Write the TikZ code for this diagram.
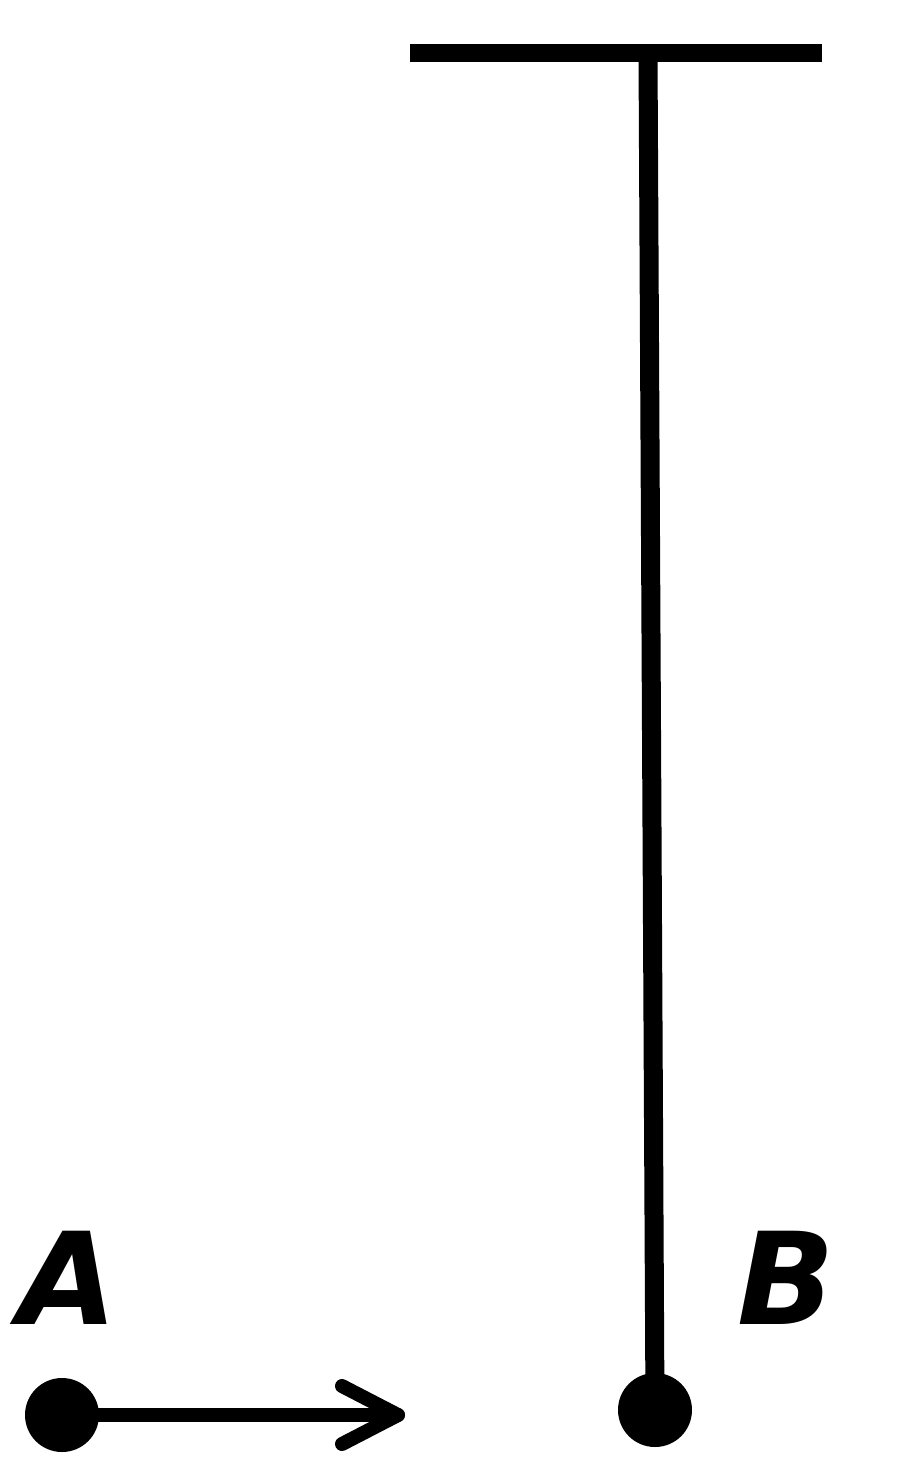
\documentclass[tikz,border=0pt]{standalone}
\usepackage{fontspec}
\setsansfont{DejaVu Sans}
\begin{document}
\begin{tikzpicture}[x=0.5pt,y=-0.5pt,
  dot/.style={circle,fill=black,inner sep=0pt,minimum size=37pt},
  lbl/.style={font=\sffamily\bfseries\itshape\fontsize{64}{64}\selectfont,inner sep=0pt},
  bar/.style={line width=9pt},
  stem/.style={line width=9.5pt},
  arr/.style={line width=7pt,line cap=round,line join=round}]
\useasboundingbox (0,0) rectangle (900,1484);
\fill[white] (0,0) rectangle (900,1484);
\coordinate (L) at (410,53);
\coordinate (R) at (822,53);
\coordinate (top) at (648,53);
\node[dot] (B) at (655,1410) {};
\node[dot] (A) at (62,1415) {};
\coordinate (tip) at (398,1415);
\draw[bar] (L) -- (R);
\draw[stem] (top) -- (B.center);
\draw[arr] (A.center) -- (tip);
\draw[arr] (342,1386) -- (tip) -- (342,1444);
\node[lbl] (la) at (68,1278) {A};
\node[lbl] (lb) at (786,1278) {B};
\end{tikzpicture}
\end{document}
